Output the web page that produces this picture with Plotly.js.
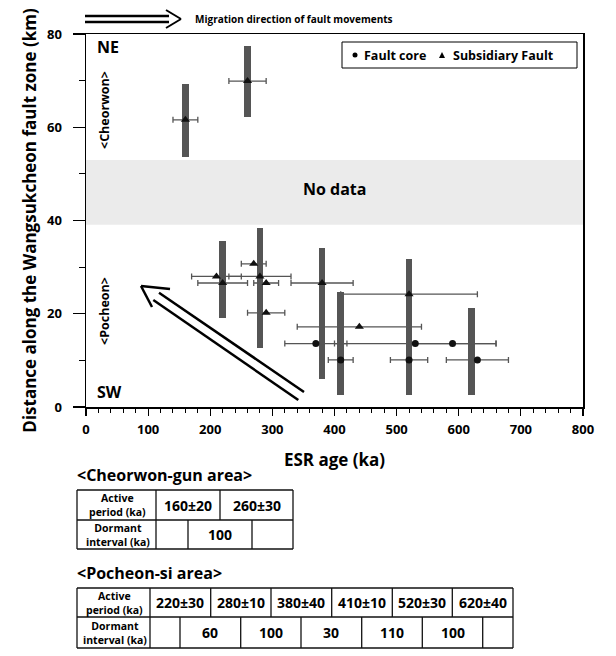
<!DOCTYPE html>
<html><head><meta charset="utf-8">
<script src="https://cdn.plot.ly/plotly-3.0.1.min.js"></script>
<style>html,body{margin:0;padding:0;background:#fff;} #chart{width:616px;height:656px;}</style>
</head><body><div id="chart"></div>
<script>
// ---- data ----
const barAge  = [160, 260, 220, 280, 380, 410, 520, 620];
const barLow  = [53.7, 62.2, 19.0, 12.6, 6.1, 2.5, 2.5, 2.5];
const barHigh = [69.2, 77.5, 35.5, 38.3, 34.0, 24.7, 31.7, 21.2];

const coreAge  = [370, 530, 590, 410, 520, 630];
const coreDist = [13.6, 13.6, 13.6, 10.1, 10.1, 10.1];
const coreErr  = [50, 130, 70, 20, 30, 50];

const subAge  = [160, 260, 270, 210, 280, 220, 290, 380, 520, 440, 290];
const subDist = [61.6, 69.9, 30.7, 28.0, 28.0, 26.6, 26.6, 26.6, 24.2, 17.2, 20.2];
const subErr  = [20, 30, 20, 40, 50, 40, 20, 50, 110, 100, 30];

const noDataLow = 39.1, noDataHigh = 53.0;

const xTickVals = [0, 100, 200, 300, 400, 500, 600, 700, 800];
const yTickVals = [0, 20, 40, 60, 80];

const cheorwonActive  = ['160±20', '260±30'];
const cheorwonDormant = ['100'];
const pocheonActive   = ['220±30', '280±10', '380±40', '410±10', '520±30', '620±40'];
const pocheonDormant  = ['60', '100', '30', '110', '100'];

// ---- helpers ----
const FONT = '"Open Sans", "Noto Sans", sans-serif';
const L = 86, R = 583, T = 34, B = 407;
const px = x => (x - L) / (R - L);
const py = y => (B - y) / (B - T);
const shapes = [], ann = [];
function line(x0, y0, x1, y1, w, c) {
  shapes.push({type:'line', xref:'paper', yref:'paper', x0:px(x0), y0:py(y0), x1:px(x1), y1:py(y1),
    line:{color:c || '#000', width:w || 1}});
}
function text(t, x, y, size, opts) {
  const o = Object.assign({xanchor:'center', yanchor:'middle', weight:'bold', pad:1}, opts || {});
  ann.push({text:t, xref:'paper', yref:'paper', x:px(x), y:py(y), showarrow:false,
    xanchor:o.xanchor, yanchor:o.yanchor, textangle:o.angle || 0, borderpad:o.pad,
    font:{family:FONT, size:size, color:'#000', weight:o.weight}});
}

// no-data band
shapes.push({type:'rect', xref:'paper', yref:'y', x0:0, x1:1, y0:noDataLow, y1:noDataHigh,
  fillcolor:'#ebebeb', line:{width:0}, layer:'below'});
text('No data', 334, 189, 16);

// plot labels
text('NE', 95, 47, 16, {xanchor:'left'});
text('SW', 95, 392, 16, {xanchor:'left'});
text('&lt;Cheorwon&gt;', 104, 110, 12.5, {angle:-90});
text('&lt;Pocheon&gt;', 104, 311, 12.5, {angle:-90});

// legend (manual)
shapes.push({type:'rect', xref:'paper', yref:'paper', x0:px(342), x1:px(577), y0:py(42), y1:py(68),
  line:{color:'#000', width:1}, fillcolor:'#fff'});
shapes.push({type:'circle', xref:'paper', yref:'paper', x0:px(352.5), x1:px(357.5), y0:py(52.5), y1:py(57.5),
  fillcolor:'#000', line:{width:0}});
shapes.push({type:'path', xref:'paper', yref:'paper',
  path:`M ${px(439)} ${py(58)} L ${px(445)} ${py(58)} L ${px(442)} ${py(52)} Z`, fillcolor:'#000', line:{width:0}});
text('Fault core', 362, 55, 12.5, {xanchor:'left'});
text('Subsidiary Fault', 451, 55, 12.5, {xanchor:'left'});

// migration arrow (top)
line(85, 16, 169, 16, 2.5); line(85, 22, 169, 22, 2.5);
line(166, 10, 181, 19, 2); line(181, 19, 166, 28, 2);
text('Migration direction of fault movements', 193, 19, 10, {xanchor:'left'});

// big migration arrow in plot
line(159, 292.7, 304, 392, 2.5);
line(153.3, 300, 298.3, 400, 2.5);
line(141, 286, 170, 289, 2.5);
line(141, 286, 152, 307, 2.5);

// tables
function table(left, headEnd, right, top, mid, bottom, topSplits, botSplits, active, dormant, hdrSize) {
  const w = 1.3, c = '#111';
  line(left, top, right, top, w, c); line(left, bottom, right, bottom, w, c);
  line(left, mid, right, mid, w, c);
  line(left, top, left, bottom, w, c); line(right, top, right, bottom, w, c);
  line(headEnd, top, headEnd, bottom, w, c);
  topSplits.forEach(s => line(s, top, s, mid, w, c));
  botSplits.forEach(s => line(s, mid, s, bottom, w, c));
  const hc = (left + headEnd) / 2 + 1;
  const r1 = (top + mid) / 2, r2 = (mid + bottom) / 2;
  text('Active<br>period (ka)', hc, r1, hdrSize, {pad:0});
  text('Dormant<br>interval (ka)', hc, r2, hdrSize, {pad:0});
  const te = [headEnd, ...topSplits, right];
  active.forEach((v, i) => text(v, (te[i] + te[i + 1]) / 2, r1, 14));
  const be = [headEnd, ...botSplits, right];
  dormant.forEach((v, i) => text(v, (be[i + 1] + be[i + 2]) / 2, r2, 14));
}
text('&lt;Cheorwon-gun area&gt;', 75, 475, 16, {xanchor:'left'});
table(77, 156, 293, 490, 520, 549, [220], [188, 252], cheorwonActive, cheorwonDormant, 10.5);
text('&lt;Pocheon-si area&gt;', 75, 573, 16, {xanchor:'left'});
table(77, 150, 513, 588, 617, 648, [210.7, 271, 331.7, 392.3, 452.3],
  [180, 240.7, 301, 361.7, 422.3, 482.7], pocheonActive, pocheonDormant, 10.5);

// ---- traces ----
const bars = {type:'bar', x:barAge, base:barLow, y:barHigh.map((h, i) => h - barLow[i]),
  width:11, marker:{color:'#555', line:{width:0}}, showlegend:false, hoverinfo:'skip'};
const core = {type:'scatter', mode:'markers', name:'Fault core', x:coreAge, y:coreDist,
  marker:{symbol:'circle', size:7, color:'#111'},
  error_x:{type:'data', array:coreErr, visible:true, color:'#555', thickness:1.3, width:3},
  showlegend:false};
const sub = {type:'scatter', mode:'markers', name:'Subsidiary Fault', x:subAge, y:subDist,
  marker:{symbol:'triangle-up', size:8, color:'#111'},
  error_x:{type:'data', array:subErr, visible:true, color:'#555', thickness:1.3, width:3},
  showlegend:false};

const axisFont = {family:FONT, size:13, color:'#000', weight:'bold'};
const layout = {
  width:616, height:656,
  margin:{l:L, r:616 - R, t:T, b:656 - B, pad:0},
  paper_bgcolor:'#fff', plot_bgcolor:'#fff',
  showlegend:false,
  xaxis:{range:[0, 800], tickvals:xTickVals, showline:true, mirror:true, linecolor:'#000', linewidth:1.5,
    ticks:'outside', ticklen:7, tickwidth:1.2, tickcolor:'#000',
    minor:{dtick:20, ticks:'outside', ticklen:4, tickwidth:1, tickcolor:'#000'},
    showgrid:false, zeroline:false, tickfont:axisFont, ticklabelstandoff:3,
    title:{text:'ESR age (ka)', font:{family:FONT, size:17, color:'#000', weight:'bold'}, standoff:17},
    automargin:false, fixedrange:true},
  yaxis:{range:[0, 80], tickvals:yTickVals, showline:true, mirror:true, linecolor:'#000', linewidth:1.5,
    ticks:'outside', ticklen:12, tickwidth:1.2, tickcolor:'#000',
    minor:{dtick:10, ticks:'outside', ticklen:6, tickwidth:1, tickcolor:'#000'},
    showgrid:false, zeroline:false, tickfont:axisFont, ticklabelstandoff:8,
    title:{text:'Distance along the Wangsukcheon fault zone (km)', font:{family:FONT, size:17, color:'#000', weight:'bold'}, standoff:6},
    automargin:false, fixedrange:true},
  shapes:shapes, annotations:ann, bargap:0
};
Plotly.newPlot('chart', [bars, core, sub], layout, {displayModeBar:false, staticPlot:true});
</script></body></html>
